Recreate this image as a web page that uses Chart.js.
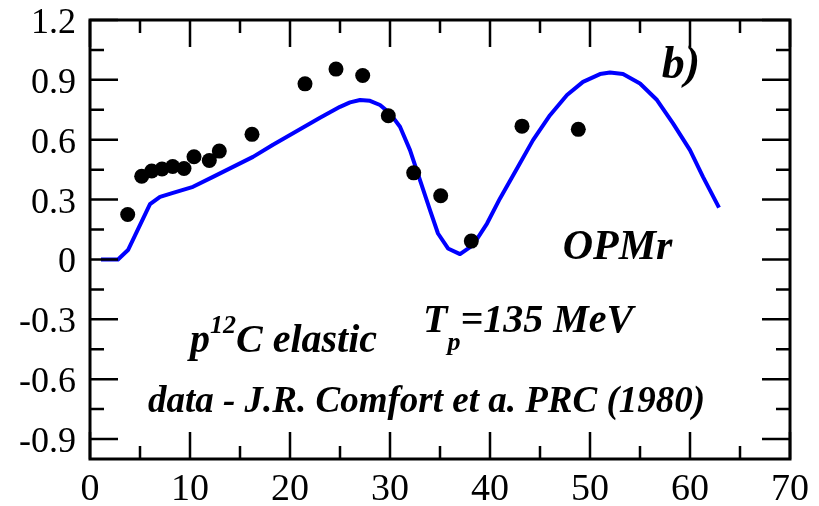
<!DOCTYPE html>
<html>
<head>
<meta charset="utf-8">
<script src="https://cdn.jsdelivr.net/npm/chart.js@4.4.1/dist/chart.umd.min.js"></script>
<style>
  html, body { margin: 0; padding: 0; background: #fff; }
  canvas { display: block; }
</style>
</head>
<body>
<canvas id="chart" width="819" height="506"></canvas>
<script>
// OPMr calculation (blue curve)
const curveX = [1.1, 2.8, 3.8, 6.0, 7.0, 8.3, 10.3, 12.3, 14.3, 16.3, 18.3, 21.0, 23.0, 25.0, 26.0, 27.0, 28.0, 29.0, 30.0,
    31.0, 32.0, 33.0, 34.0, 34.8, 35.8, 37.0, 38.3, 39.7, 41.0, 42.7, 44.3, 46.0, 47.7, 49.3, 51.0, 52.0, 53.3,
    55.0, 56.7, 58.3, 60.0, 61.3, 62.9];
const curveY = [0, 0, 0.047, 0.277, 0.314, 0.334, 0.364, 0.414, 0.464, 0.514, 0.575, 0.652, 0.71, 0.765, 0.787, 0.799, 0.795, 0.774, 0.732,
    0.665, 0.548, 0.398, 0.247, 0.13, 0.055, 0.027, 0.072, 0.18, 0.306, 0.456, 0.598, 0.723, 0.824, 0.89, 0.929, 0.937, 0.929,
    0.882, 0.799, 0.682, 0.548, 0.414, 0.26];

// experimental data (Comfort et al.)
const dataX = [3.77, 5.17, 6.17, 7.2, 8.27, 9.4, 10.4, 11.93, 12.93, 16.2, 21.5, 24.6, 27.27, 29.83, 32.37, 35.07, 38.13, 43.2, 48.83];
const dataY = [0.225, 0.417, 0.443, 0.453, 0.466, 0.456, 0.515, 0.496, 0.543, 0.627, 0.88, 0.954, 0.922, 0.72, 0.434, 0.319, 0.092, 0.668, 0.652];

// axes
const xTicks = [0, 10, 20, 30, 40, 50, 60, 70];
const xLabels = ['0', '10', '20', '30', '40', '50', '60', '70'];
const xMinor = [5, 15, 25, 35, 45, 55, 65];
const yTicks = [-0.9, -0.6, -0.3, 0, 0.3, 0.6, 0.9, 1.2];
const yLabels = ['-0.9', '-0.6', '-0.3', '0', '0.3', '0.6', '0.9', '1.2'];
const yMinor = [-0.75, -0.45, -0.15, 0.15, 0.45, 0.75, 1.05];

const SERIF = '"Liberation Serif", "DejaVu Serif", serif';

// frame with inward ticks on all four sides, plus tick labels
const framePlugin = {
    id: 'frame',
    afterDatasetsDraw(chart) {
        const { ctx, chartArea: a, scales } = chart;
        ctx.save();
        ctx.strokeStyle = '#000';
        ctx.lineCap = 'butt';
        ctx.lineWidth = 2.5;
        const xtick = (vals, len) => {
            vals.forEach(v => {
                const px = scales.x.getPixelForValue(v);
                ctx.beginPath();
                ctx.moveTo(px, a.bottom); ctx.lineTo(px, a.bottom - len);
                ctx.moveTo(px, a.top); ctx.lineTo(px, a.top + len);
                ctx.stroke();
            });
        };
        const ytick = (vals, len) => {
            vals.forEach(v => {
                const py = scales.y.getPixelForValue(v);
                ctx.beginPath();
                ctx.moveTo(a.left, py); ctx.lineTo(a.left + len, py);
                ctx.moveTo(a.right, py); ctx.lineTo(a.right - len, py);
                ctx.stroke();
            });
        };
        xtick(xTicks, 27);
        xtick(xMinor, 13);
        ytick(yTicks, 28);
        ytick(yMinor, 14);
        ctx.lineWidth = 3;
        ctx.strokeRect(a.left, a.top, a.right - a.left, a.bottom - a.top);

        ctx.fillStyle = '#000';
        ctx.textBaseline = 'alphabetic';
        ctx.font = '38px ' + SERIF;
        ctx.textAlign = 'center';
        xTicks.forEach((v, i) => ctx.fillText(xLabels[i], scales.x.getPixelForValue(v), a.bottom + 41));
        ctx.font = '36px ' + SERIF;
        ctx.textAlign = 'right';
        yTicks.forEach((v, i) => ctx.fillText(yLabels[i], a.left - 14, scales.y.getPixelForValue(v) + 13));
        ctx.restore();
    }
};

// text labels, placed in data coordinates
function drawRuns(ctx, x, y, runs) {
    runs.forEach(r => {
        ctx.font = 'italic bold ' + r.size + 'px ' + SERIF;
        ctx.fillText(r.t, x, y + (r.dy || 0));
        x += ctx.measureText(r.t).width;
    });
}

const labelPlugin = {
    id: 'labels',
    afterDraw(chart) {
        const { ctx, scales } = chart;
        const X = v => scales.x.getPixelForValue(v);
        const Y = v => scales.y.getPixelForValue(v);
        ctx.save();
        ctx.fillStyle = '#000';
        ctx.textBaseline = 'alphabetic';
        ctx.textAlign = 'left';
        drawRuns(ctx, X(57.17), Y(0.907), [{ t: 'b)', size: 46 }]);
        drawRuns(ctx, X(47.27), Y(0.0), [{ t: 'OPMr', size: 42 }]);
        drawRuns(ctx, X(10.0), Y(-0.465), [
            { t: 'p', size: 40 },
            { t: '12', size: 26, dy: -19 },
            { t: 'C elastic', size: 40 }
        ]);
        drawRuns(ctx, X(33.3), Y(-0.364), [
            { t: 'T', size: 40 },
            { t: 'p', size: 26, dy: 18 },
            { t: '=135 MeV', size: 40 }
        ]);
        drawRuns(ctx, X(5.8), Y(-0.765), [{ t: 'data - J.R. Comfort et a. PRC (1980)', size: 37 }]);
        ctx.restore();
    }
};

const points = (xs, ys) => xs.map((x, i) => ({ x, y: ys[i] }));

new Chart(document.getElementById('chart').getContext('2d'), {
    type: 'scatter',
    data: {
        datasets: [
            {
                label: 'data',
                data: points(dataX, dataY),
                pointRadius: 7.5,
                pointBackgroundColor: '#000',
                pointBorderWidth: 0,
                showLine: false
            },
            {
                label: 'OPMr',
                data: points(curveX, curveY),
                showLine: true,
                pointRadius: 0,
                borderColor: '#0000ff',
                borderWidth: 4,
                tension: 0,
                borderJoinStyle: 'round'
            }
        ]
    },
    options: {
        responsive: false,
        animation: false,
        layout: { padding: { top: 20, right: 29, left: 0, bottom: 0 } },
        plugins: { legend: { display: false }, tooltip: { enabled: false } },
        scales: {
            x: {
                type: 'linear',
                min: 0,
                max: 70,
                afterFit: s => { s.height = 47; },
                grid: { display: false },
                border: { display: false },
                ticks: { display: false }
            },
            y: {
                type: 'linear',
                min: -1.0,
                max: 1.2,
                afterFit: s => { s.width = 90; },
                grid: { display: false },
                border: { display: false },
                ticks: { display: false }
            }
        }
    },
    plugins: [framePlugin, labelPlugin]
});
</script>
</body>
</html>
